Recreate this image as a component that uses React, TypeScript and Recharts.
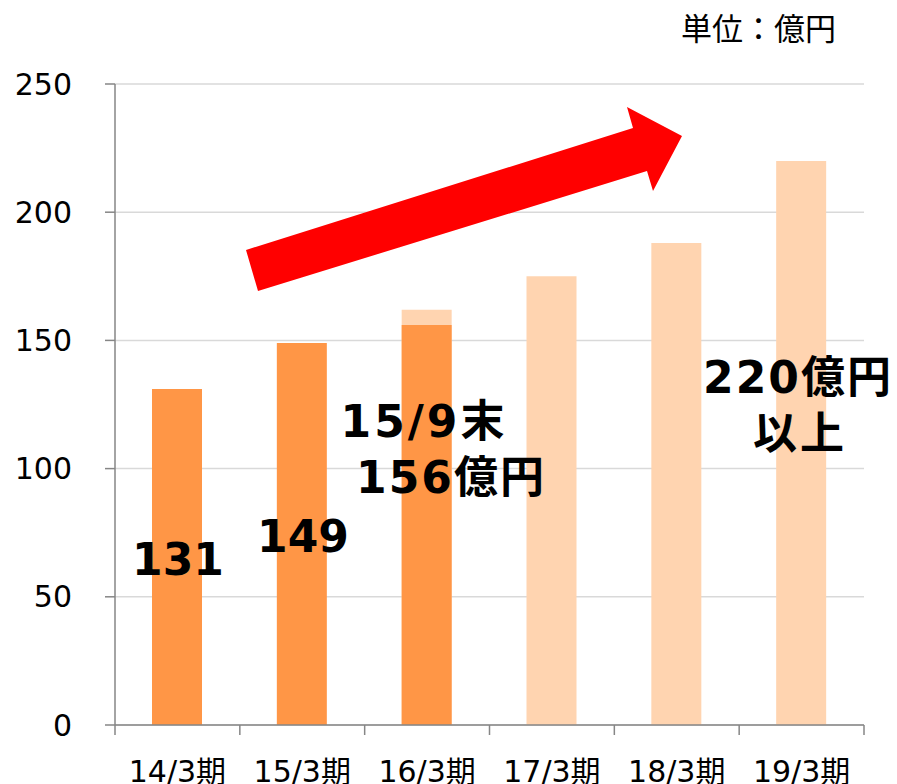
import { Bar, BarChart, CartesianGrid, XAxis, YAxis } from "recharts";

const categories = ["14/3期", "15/3期", "16/3期", "17/3期", "18/3期", "19/3期"];
// 実績（15/9末まで）
const actual: (number | null)[] = [131, 149, 156, null, null, null];
// 計画
const plan: (number | null)[] = [null, null, 162, 175, 188, 220];
const yTicks = [0, 50, 100, 150, 200, 250];

const W = 897;
const H = 784;
const MARGIN = { top: 84, right: 33, bottom: 0, left: 0 };
const YAXIS_W = 115;
const XAXIS_H = 59;
const PLOT_BOTTOM = H - MARGIN.bottom - XAXIS_H;
const BAND_W = (W - MARGIN.right - MARGIN.left - YAXIS_W) / categories.length;

const AXIS_COLOR = "#868686";
const FONT = "'DejaVu Sans', 'Noto Sans CJK JP', sans-serif";

const data = categories.map((name, i) => ({ name, actual: actual[i], plan: plan[i] }));

type TickProps = { x?: number; y?: number; index?: number; payload?: { value: string } };

const XTick = ({ x = 0, index = 0, payload }: TickProps) => {
  const left = x - BAND_W / 2;
  const right = x + BAND_W / 2;
  return (
    <g>
      <line x1={left} x2={left} y1={PLOT_BOTTOM} y2={PLOT_BOTTOM + 10} stroke={AXIS_COLOR} strokeWidth={1.5} />
      {index === categories.length - 1 && (
        <line x1={right} x2={right} y1={PLOT_BOTTOM} y2={PLOT_BOTTOM + 10} stroke={AXIS_COLOR} strokeWidth={1.5} />
      )}
      <text x={x} y={PLOT_BOTTOM + 57} textAnchor="middle" fontSize={30} fontFamily={FONT} fill="#000">
        {payload?.value}
      </text>
    </g>
  );
};

const boldText = { fontFamily: FONT, fontSize: 44, fontWeight: 700, fill: "#000", textAnchor: "middle" as const };

export default function App() {
  return (
    <div style={{ position: "absolute", left: 0, top: 0, width: W, height: H, background: "#fff" }}>
      <BarChart width={W} height={H} data={data} margin={MARGIN} barGap={-50}>
        <CartesianGrid vertical={false} stroke="#D9D9D9" strokeWidth={1.5} />
        <XAxis
          dataKey="name"
          height={XAXIS_H}
          axisLine={{ stroke: AXIS_COLOR, strokeWidth: 1.5 }}
          tickLine={false}
          tick={<XTick />}
          interval={0}
        />
        <YAxis
          width={YAXIS_W}
          domain={[0, 250]}
          ticks={yTicks}
          interval={0}
          axisLine={{ stroke: AXIS_COLOR, strokeWidth: 1.5 }}
          tickLine={{ stroke: AXIS_COLOR, strokeWidth: 1.5 }}
          tickSize={10}
          tickMargin={33}
          tick={{ fill: "#000", fontSize: 30, fontFamily: FONT }}
        />
        <Bar dataKey="plan" fill="#FFD4B0" barSize={50} isAnimationActive={false} />
        <Bar dataKey="actual" fill="#FF9646" barSize={50} isAnimationActive={false} />
      </BarChart>
      <svg width={W} height={H} style={{ position: "absolute", left: 0, top: 0, pointerEvents: "none" }}>
        <polygon
          points="246,250 633,128 627,107 682,136 653,191 647,171 258,291"
          fill="#FF0000"
        />
        <text x={836} y={40} textAnchor="end" fontSize={31} fontFamily={FONT} fill="#000">
          単位：億円
        </text>
        <text x={178} y={575} {...boldText}>131</text>
        <text x={303} y={552} {...boldText}>149</text>
        <text x={424} y={437} {...boldText} letterSpacing={3}>15/9末</text>
        <text x={451} y={493} {...boldText} letterSpacing={2}>156億円</text>
        <text x={798} y={393} {...boldText} letterSpacing={2}>220億円</text>
        <text x={800} y={449} {...boldText} letterSpacing={3}>以上</text>
      </svg>
    </div>
  );
}
